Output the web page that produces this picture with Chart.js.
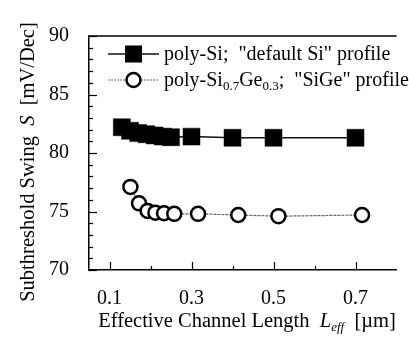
<!DOCTYPE html>
<html><head><meta charset="utf-8">
<script src="https://cdn.jsdelivr.net/npm/chart.js@4.4.1/dist/chart.umd.min.js"></script>
<style>html,body{margin:0;padding:0;background:#fff;}#wrap{width:409px;height:338px;}</style>
</head><body><div id="wrap"><canvas id="c" width="409" height="338"></canvas></div>
<script>
// ---- data ----
const siX   = [0.13, 0.15, 0.17, 0.19, 0.21, 0.23, 0.25, 0.30, 0.40, 0.50, 0.70];
const siS   = [82.2, 81.9, 81.7, 81.6, 81.5, 81.4, 81.35, 81.4, 81.3, 81.3, 81.3];
const sigeX = [0.151, 0.172, 0.193, 0.212, 0.233, 0.258, 0.316, 0.414, 0.512, 0.716];
const sigeS = [77.1, 75.7, 75.05, 74.9, 74.85, 74.8, 74.8, 74.7, 74.6, 74.7];
const xTickValues = [0.1, 0.2, 0.3, 0.4, 0.5, 0.6, 0.7];
const xTickLabels = ['0.1', '', '0.3', '', '0.5', '', '0.7'];
const yTickValues = [70, 75, 80, 85, 90];
const legendLabels = ['poly-Si;  "default Si" profile', 'SiGe'];

const SERIF = "'Liberation Serif', 'Times New Roman', serif";
Chart.defaults.font.family = SERIF;
Chart.defaults.font.size = 20;
Chart.defaults.color = '#000';

function drawRuns(ctx, runs, x, y) {
  let cx = x;
  for (const r of runs) {
    ctx.font = r.font;
    ctx.fillText(r.t, cx, y + (r.dy || 0));
    cx += ctx.measureText(r.t).width;
  }
  return cx;
}
function runsWidth(ctx, runs) {
  let w = 0;
  for (const r of runs) { ctx.font = r.font; w += ctx.measureText(r.t).width; }
  return w;
}

const decor = {
  id: 'decor',
  afterDraw(chart) {
    const ctx = chart.ctx, ca = chart.chartArea;
    const xs = chart.scales.x, ys = chart.scales.y;
    ctx.save();
    ctx.strokeStyle = '#000';
    ctx.fillStyle = '#000';
    ctx.lineWidth = 1.5;
    ctx.beginPath(); ctx.moveTo(ca.left, ca.top); ctx.lineTo(ca.right, ca.top); ctx.stroke();
    ctx.lineWidth = 1.2;
    for (let v = 70; v <= 90; v++) {
      const p = Math.round(ys.getPixelForValue(v)) + 0.5;
      const len = v % 5 === 0 ? 8 : 4;
      ctx.beginPath(); ctx.moveTo(ca.left, p); ctx.lineTo(ca.left + len, p); ctx.stroke();
    }
    xTickValues.forEach((v, i) => {
      const p = Math.round(xs.getPixelForValue(v)) + 0.5;
      const len = xTickLabels[i] ? 8 : 4;
      ctx.beginPath(); ctx.moveTo(p, ca.bottom); ctx.lineTo(p, ca.bottom - len); ctx.stroke();
    });
    ctx.textBaseline = 'alphabetic';
    const nf = "20.5px " + SERIF, itf = "italic 20.5px " + SERIF, subf = "italic 13px " + SERIF;
    const xRuns = [
      {t: 'Effective Channel Length  ', font: nf},
      {t: 'L', font: itf},
      {t: 'eff', font: subf, dy: 4},
      {t: '  [\u00b5m]', font: nf}
    ];
    const xw = runsWidth(ctx, xRuns);
    drawRuns(ctx, xRuns, 247 - xw / 2, 327);
    const yRuns = [
      {t: 'Subthreshold Swing  ', font: nf},
      {t: 'S', font: itf},
      {t: '  [mV/Dec]', font: nf}
    ];
    const yw = runsWidth(ctx, yRuns);
    ctx.save();
    ctx.translate(34, 162);
    ctx.rotate(-Math.PI / 2);
    drawRuns(ctx, yRuns, -yw / 2, 0);
    ctx.restore();
    // legend
    const lf = "20px " + SERIF, lsub = "13px " + SERIF;
    let ry = 54;
    ctx.strokeStyle = '#111'; ctx.lineWidth = 1.5; ctx.setLineDash([]);
    ctx.beginPath(); ctx.moveTo(108, ry); ctx.lineTo(159, ry); ctx.stroke();
    ctx.fillStyle = '#000';
    ctx.fillRect(125, ry - 8.5, 17, 17);
    drawRuns(ctx, [{t: legendLabels[0], font: lf}], 164, ry + 6);
    ry = 80;
    ctx.strokeStyle = '#666'; ctx.lineWidth = 1.2; ctx.setLineDash([2, 1]);
    ctx.beginPath(); ctx.moveTo(108, ry); ctx.lineTo(159, ry); ctx.stroke();
    ctx.setLineDash([]);
    ctx.beginPath(); ctx.arc(133.5, ry, 7, 0, Math.PI * 2);
    ctx.fillStyle = '#fff'; ctx.fill();
    ctx.strokeStyle = '#000'; ctx.lineWidth = 2.5; ctx.stroke();
    ctx.fillStyle = '#000';
    drawRuns(ctx, [
      {t: 'poly-Si', font: lf},
      {t: '0.7', font: lsub, dy: 4},
      {t: 'Ge', font: lf},
      {t: '0.3', font: lsub, dy: 4},
      {t: ';  "' + legendLabels[1] + '" profile', font: lf}
    ], 164, ry + 6);
    ctx.restore();
  }
};

new Chart(document.getElementById('c'), {
  type: 'scatter',
  data: {
    datasets: [
      {
        label: 'poly-Si',
        data: siX.map((x, i) => ({x, y: siS[i]})),
        showLine: true,
        borderColor: '#111',
        borderWidth: 1.5,
        pointStyle: 'rect',
        pointRadius: 12,
        pointBackgroundColor: '#000',
        pointBorderColor: '#000',
        pointBorderWidth: 0.5
      },
      {
        label: 'poly-SiGe',
        data: sigeX.map((x, i) => ({x, y: sigeS[i]})),
        showLine: true,
        borderColor: '#666',
        borderWidth: 1.2,
        borderDash: [3, 1],
        pointStyle: 'circle',
        pointRadius: 7,
        pointBackgroundColor: '#fff',
        pointBorderColor: '#000',
        pointBorderWidth: 2.5
      }
    ]
  },
  options: {
    responsive: false,
    animation: false,
    layout: {padding: {top: 36, right: 0, left: 0, bottom: 0}},
    plugins: {legend: {display: false}, tooltip: {enabled: false}},
    scales: {
      x: {
        type: 'linear', min: 0.05, max: 0.8,
        afterFit: s => { s.height = 68; },
        afterBuildTicks: s => { s.ticks = xTickValues.map(v => ({value: v})); },
        grid: {display: false, drawTicks: false},
        border: {display: true, color: '#000', width: 1.5},
        ticks: {padding: 17, autoSkip: false, maxRotation: 0,
          callback: (v, i) => xTickLabels[i]}
      },
      y: {
        type: 'linear', min: 70, max: 90,
        afterFit: s => { s.width = 89; },
        afterBuildTicks: s => { s.ticks = yTickValues.map(v => ({value: v})); },
        grid: {display: false, drawTicks: false},
        border: {display: true, color: '#000', width: 1.5},
        ticks: {padding: 20, callback: v => String(v)}
      }
    }
  },
  plugins: [decor]
});
</script></body></html>
